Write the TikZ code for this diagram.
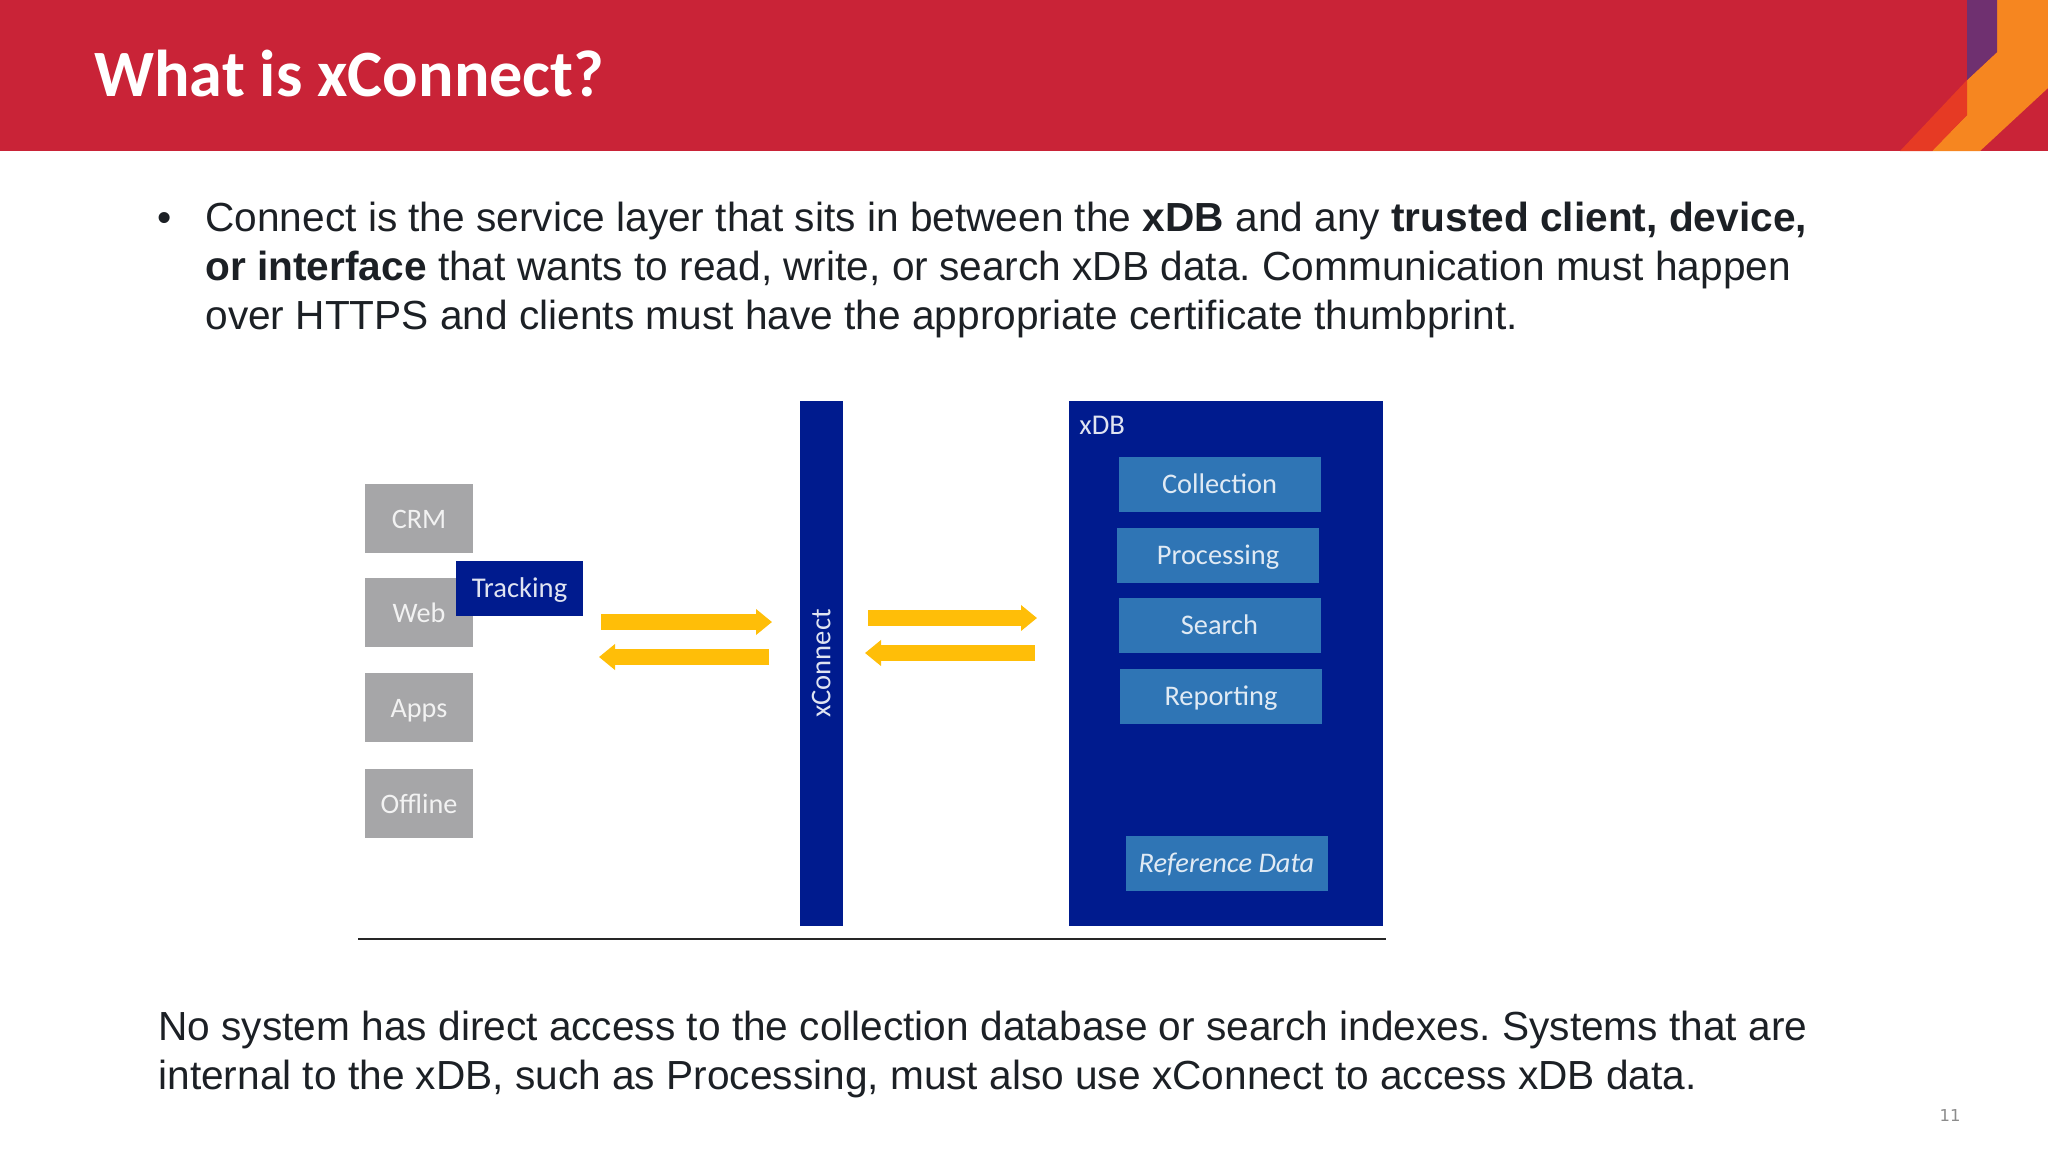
\documentclass[tikz,border=0pt]{standalone}
\usepackage{fontspec}
\setmainfont{Liberation Sans}
\newfontfamily\calibrifont{Carlito}
\newfontfamily\numfont{DejaVu Sans}
\usepackage{tikz}
\usetikzlibrary{arrows.meta,positioning,calc}
\definecolor{headred}{HTML}{C92337}
\definecolor{headpurple}{HTML}{6F3070}
\definecolor{headorange}{HTML}{F68620}
\definecolor{headflame}{HTML}{E63A24}
\definecolor{darkblue}{HTML}{001B8E}
\definecolor{midblue}{HTML}{2F75B5}
\definecolor{sysgray}{HTML}{A6A6A8}
\definecolor{flowyellow}{HTML}{FFBE08}
\definecolor{bodyink}{HTML}{1C2025}
\tikzstyle{sysbox}=[fill=sysgray,text=white!85!sysgray,minimum width=54pt,minimum height=34.5pt,inner sep=0pt,text height=10.5pt,text depth=0.5pt,font=\calibrifont\fontsize{14.1}{16}\selectfont]
\tikzstyle{dbbox}=[fill=midblue,text=white!85!midblue,minimum width=101pt,minimum height=27.5pt,inner sep=0pt,text height=9.5pt,text depth=0.5pt,font=\calibrifont\fontsize{14.2}{17}\selectfont]
\tikzstyle{barbox}=[fill=darkblue,text=white!88!darkblue,inner sep=0pt,text height=10.5pt,text depth=1.2pt,font=\calibrifont\fontsize{14.3}{17}\selectfont]
\tikzstyle{flow}=[draw=flowyellow,line width=8pt,-{Triangle[length=8pt,width=12.5pt]}]
\tikzstyle{bodytext}=[anchor=base west,inner sep=0pt,align=left,text=bodyink,font=\frenchspacing\fontsize{20.32}{24.5}\selectfont]

\begin{document}
\begin{tikzpicture}[x=0.5pt,y=-0.5pt]
    \useasboundingbox (0,0) rectangle (2048,1152);
    % header band
    \fill[headred] (0,0) rectangle (2048,151);
    \fill[headorange] (1997,0) -- (2048,0) -- (2048,88) -- (1980,151) -- (1932,151)
      -- (1967,115) -- (1967,80) -- (1997,52) -- cycle;
    \fill[headpurple] (1967,0) -- (1997,0) -- (1997,52) -- (1967,80) -- cycle;
    \fill[headflame] (1900,151) -- (1932,151) -- (1967,115) -- (1967,80) -- cycle;
    \node (title) [anchor=base west,inner sep=0pt,text=white,font=\calibrifont\bfseries\fontsize{33.1}{38}\selectfont] at (94,96) {What is xConnect?};

    % text above
    \node (bullet) [bodytext] at (157,231) {\textbullet};
    \node (intro) [bodytext] at (205,329) {Connect is the service layer that sits in between the \textbf{xDB} and any \textbf{trusted client, device,}\\
      \textbf{or interface} that wants to read, write, or search xDB data. Communication must happen\\
      over HTTPS and clients must have the appropriate certificate thumbprint.};

    % left column
    \node (crm) [sysbox] at (419,518) {CRM};
    \node (web) [sysbox] at (419,612) {Web};
    \node (apps) [sysbox] at (419,707) {Apps};
    \node (offline) [sysbox] at (419,803) {Offline};
    \node (tracking) [barbox,minimum width=63.5pt,minimum height=27.5pt] at (519.5,588.5) {Tracking};

    % middle bar
    \node (xconnect) [barbox,rotate=90,minimum width=262.5pt,minimum height=21.5pt] at (821,663.5) {xConnect};

    % xDB block
    \node (xdb) [barbox,minimum width=157pt,minimum height=262.5pt] at (1225.5,663.5) {};
    \node (xdblabel) [anchor=west,inner sep=0pt,text=white!88!darkblue,font=\calibrifont\fontsize{14.3}{17}\selectfont] at (1079,425) {xDB};
    \node (collection) [dbbox] at (1219.5,484.5) {Collection};
    \node (processing) [dbbox] at (1218,555) {Processing};
    \node (search) [dbbox] at (1219.5,625) {Search};
    \node (reporting) [dbbox] at (1221,696) {Reporting};
    \node (refdata) [dbbox] at (1226.5,863.5) {\itshape Reference Data};

    % flows
    \coordinate (leftin) at (601,622);
    \coordinate (leftinend) at (772,622);
    \coordinate (leftout) at (769,657);
    \coordinate (leftoutend) at (599,657);
    \coordinate (rightin) at (868,618);
    \coordinate (rightinend) at (1037,618);
    \coordinate (rightout) at (1035,653);
    \coordinate (rightoutend) at (865,653);
    \draw[flow] (leftin) -- (leftinend);
    \draw[flow] (leftout) -- (leftoutend);
    \draw[flow] (rightin) -- (rightinend);
    \draw[flow] (rightout) -- (rightoutend);

    % ground line
    \coordinate (groundl) at (358,939);
    \coordinate (groundr) at (1386,939);
    \draw[line width=1.3pt,draw=black!85] (groundl) -- (groundr);

    % text below
    \node (outro) [bodytext] at (158,1089) {No system has direct access to the collection database or search indexes. Systems that are\\
      internal to the xDB, such as Processing, must also use xConnect to access xDB data.};
    \node (pagenum) [inner sep=0pt,text=black!45,font=\numfont\fontsize{8.2}{9}\selectfont] at (1950,1115) {11};
\end{tikzpicture}
\end{document}
